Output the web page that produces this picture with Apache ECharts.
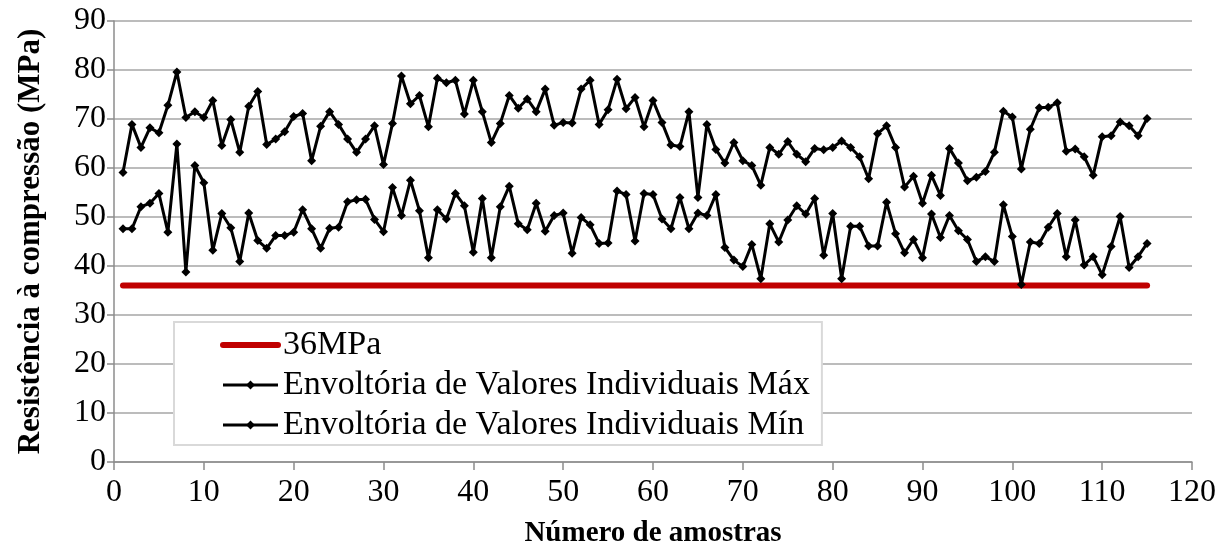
<!DOCTYPE html>
<html>
<head>
<meta charset="utf-8">
<script src="https://cdn.jsdelivr.net/npm/echarts@6/dist/echarts.min.js"></script>
<style>
  html, body { margin: 0; padding: 0; background: #fff; }
  #chart { width: 1228px; height: 553px; }
</style>
</head>
<body>
<div id="chart"></div>
<script>
// valores (amostras 1..115)
var maxValues = [
  59.1, 68.9, 64.2, 68.2, 67.2, 72.8, 79.6, 70.3, 71.5, 70.3,
  73.8, 64.6, 69.9, 63.2, 72.6, 75.6, 64.8, 65.9, 67.4, 70.5,
  71.1, 61.5, 68.5, 71.5, 68.9, 65.9, 63.2, 65.9, 68.6, 60.7,
  69.1, 78.8, 73.1, 74.8, 68.4, 78.3, 77.4, 77.9, 71.0, 77.9,
  71.5, 65.2, 69.1, 74.8, 72.2, 74.1, 71.5, 76.1, 68.7, 69.3,
  69.2, 76.1, 77.9, 68.9, 71.9, 78.1, 72.1, 74.4, 68.4, 73.8,
  69.3, 64.7, 64.4, 71.5, 54.0, 68.9, 63.8, 61.0, 65.2, 61.5,
  60.5, 56.5, 64.2, 62.8, 65.4, 62.8, 61.3, 64.0, 63.7, 64.2,
  65.5, 64.2, 62.3, 57.8, 67.0, 68.6, 64.2, 56.1, 58.3, 52.8,
  58.5, 54.4, 64.0, 61.0, 57.4, 58.1, 59.3, 63.2, 71.6, 70.4,
  59.8, 67.9, 72.3, 72.4, 73.3, 63.4, 63.9, 62.3, 58.5, 66.4,
  66.6, 69.4, 68.6, 66.6, 70.1
];
var minValues = [
  47.6, 47.6, 52.1, 52.8, 54.8, 46.9, 64.9, 38.8, 60.5, 57.0,
  43.2, 50.7, 47.8, 40.9, 50.8, 45.2, 43.6, 46.2, 46.2, 46.9,
  51.5, 47.6, 43.6, 47.7, 47.9, 53.1, 53.5, 53.6, 49.5, 47.0,
  56.0, 50.3, 57.5, 51.3, 41.7, 51.5, 49.6, 54.8, 52.3, 42.8,
  53.8, 41.7, 52.1, 56.3, 48.6, 47.4, 52.8, 47.1, 50.3, 50.8,
  42.6, 49.9, 48.4, 44.6, 44.7, 55.3, 54.6, 45.1, 54.8, 54.6,
  49.6, 47.6, 54.0, 47.6, 50.8, 50.3, 54.6, 43.8, 41.2, 39.9,
  44.4, 37.4, 48.6, 44.9, 49.4, 52.3, 50.6, 53.8, 42.2, 50.7,
  37.4, 48.1, 48.1, 44.1, 44.1, 53.0, 46.6, 42.7, 45.4, 41.7,
  50.6, 45.8, 50.3, 47.2, 45.4, 40.9, 41.9, 40.9, 52.5, 46.0,
  36.2, 44.9, 44.6, 47.9, 50.7, 41.9, 49.4, 40.2, 41.9, 38.2,
  44.0, 50.1, 39.7, 41.9, 44.6
];
// linha de referência 36MPa
var limitX = [1, 115];
var limitY = [36, 36];

var serif = "'Liberation Serif', 'Times New Roman', serif";

function pairs(xs, ys) {
  return ys.map(function (v, i) { return [xs[i], v]; });
}
var sampleNo = maxValues.map(function (v, i) { return i + 1; });

var chart = echarts.init(document.getElementById('chart'));
chart.setOption({
  animation: false,
  backgroundColor: '#fff',
  textStyle: { fontFamily: serif, color: '#000' },
  grid: { left: 114, right: 36, top: 21, bottom: 85 },
  legend: {
    orient: 'vertical',
    left: 174,
    top: 322,
    backgroundColor: '#fff',
    borderColor: '#d9d9d9',
    borderWidth: 2,
    borderRadius: 0,
    padding: [6, 12, 3, 46],
    itemWidth: 55,
    itemHeight: 11,
    itemGap: 6,
    textStyle: { fontFamily: serif, fontSize: 34, color: '#000' },
    data: [
      { name: '36MPa', itemStyle: { opacity: 0 }, lineStyle: { color: '#c00000', width: 6, cap: 'round' } },
      { name: 'Envoltória de Valores Individuais Máx', lineStyle: { color: '#000', width: 3 } },
      { name: 'Envoltória de Valores Individuais Mín', lineStyle: { color: '#000', width: 3 } }
    ]
  },
  xAxis: {
    type: 'value',
    min: 0,
    max: 120,
    interval: 10,
    name: 'Número de amostras',
    nameLocation: 'middle',
    nameGap: 57,
    nameTextStyle: { fontFamily: serif, fontSize: 29, fontWeight: 'bold', color: '#000' },
    axisLine: { lineStyle: { color: '#8c8c8c', width: 1.5 } },
    axisTick: { length: 8, lineStyle: { color: '#8c8c8c', width: 1.5 } },
    axisLabel: { fontFamily: serif, fontSize: 32, color: '#000', margin: 15 },
    splitLine: { show: false }
  },
  yAxis: {
    type: 'value',
    min: 0,
    max: 90,
    interval: 10,
    name: 'Resistência à compressão (MPa)',
    nameLocation: 'middle',
    nameGap: 68,
    nameTextStyle: { fontFamily: serif, fontSize: 31, fontWeight: 'bold', color: '#000' },
    axisLine: { show: true, lineStyle: { color: '#8c8c8c', width: 1.5 } },
    axisTick: { show: true, length: 7, lineStyle: { color: '#8c8c8c', width: 1.5 } },
    axisLabel: { fontFamily: serif, fontSize: 32, color: '#000', margin: 8 },
    splitLine: { lineStyle: { color: '#a6a6a6', width: 1.5 } }
  },
  series: [
    {
      name: '36MPa',
      type: 'line',
      data: pairs(limitX, limitY),
      symbol: 'none',
      lineStyle: { color: '#c00000', width: 6, cap: 'round' },
      itemStyle: { color: '#c00000' },
      z: 1
    },
    {
      name: 'Envoltória de Valores Individuais Máx',
      type: 'line',
      data: pairs(sampleNo, maxValues),
      symbol: 'diamond',
      symbolSize: 9,
      lineStyle: { color: '#000', width: 3 },
      itemStyle: { color: '#000' },
      z: 3
    },
    {
      name: 'Envoltória de Valores Individuais Mín',
      type: 'line',
      data: pairs(sampleNo, minValues),
      symbol: 'diamond',
      symbolSize: 9,
      lineStyle: { color: '#000', width: 3 },
      itemStyle: { color: '#000' },
      z: 3
    }
  ]
});
</script>
</body>
</html>
